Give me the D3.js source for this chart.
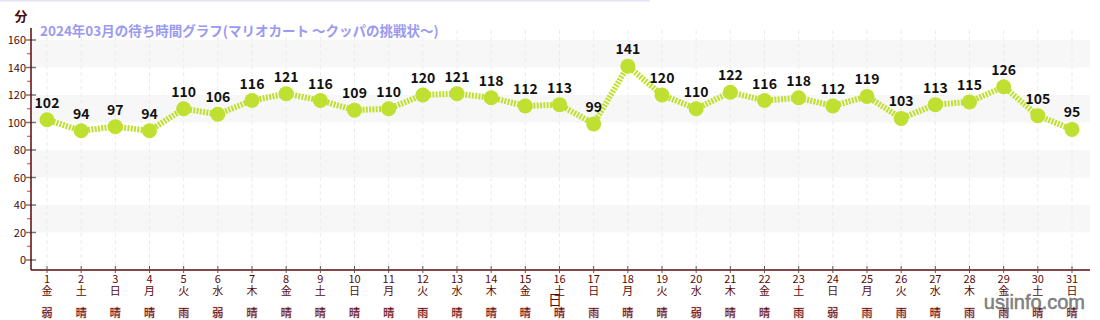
<!DOCTYPE html>
<html><head><meta charset="utf-8">
<script src="https://cdn.jsdelivr.net/npm/d3@7"></script>
<style>body{margin:0;background:#fff}svg{display:block;font-family:"Noto Sans CJK JP","Noto Sans",sans-serif}</style>
</head><body><svg id="c" width="1100" height="320"></svg>
<script>
const days = d3.range(1, 32).map(String);
const waits = [102,94,97,94,110,106,116,121,116,109,110,120,121,118,112,113,99,141,120,110,122,116,118,112,119,103,113,115,126,105,95];
const weekdays = ["金","土","日","月","火","水","木","金","土","日","月","火","水","木","金","土","日","月","火","水","木","金","土","日","月","火","水","木","金","土","日"];
const weather = ["弱雨","晴","晴","晴","雨","弱雨","晴","晴","晴","晴","晴","雨","晴","晴","晴","晴","雨","晴","晴","弱雨","晴","晴","雨","弱雨","雨","雨","晴","雨","雨","晴","晴"];
const yTicks = [0,20,40,60,80,100,120,140,160];
const title = "2024年03月の待ち時間グラフ(マリオカート 〜クッパの挑戦状〜)";

(function(){
const svg = d3.select("#c");
const pL = 31, pR = 1090, pT = 30, pB = 270;
const x = d3.scalePoint().domain(days).range([47, 1072]);
const y = d3.scaleLinear().domain([0, 160]).range([260, 40]);

svg.append("line").attr("x1",0).attr("x2",650).attr("y1",0.5).attr("y2",0.5).attr("stroke","#e4e4f8").attr("stroke-width",2);

const bands = [[140,160],[100,120],[60,80],[20,40]];
svg.selectAll("rect.band").data(bands).join("rect")
  .attr("x", pL).attr("width", pR-pL)
  .attr("y", d=>y(d[1])).attr("height", d=>y(d[0])-y(d[1]))
  .attr("fill","#f7f7f7");

svg.selectAll("line.vg").data(days).join("line")
  .attr("x1",d=>x(d)).attr("x2",d=>x(d)).attr("y1",pT).attr("y2",pB)
  .attr("stroke","#ebebeb").attr("stroke-dasharray","4,3");

svg.selectAll("line.mt").data(d3.range(10,170,20)).join("line")
  .attr("x1",pL-4).attr("x2",pL).attr("y1",d=>y(d)).attr("y2",d=>y(d))
  .attr("stroke","#e33").attr("stroke-width",1);
svg.selectAll("line.Mt").data(yTicks).join("line")
  .attr("x1",pL-5).attr("x2",pL+5).attr("y1",d=>y(d)).attr("y2",d=>y(d))
  .attr("stroke","#777").attr("stroke-width",1.5);
svg.selectAll("text.yl").data(yTicks).join("text")
  .attr("x",pL-5).attr("y",d=>y(d)+4).attr("text-anchor","end")
  .attr("font-size",11).attr("fill","#4a0a0a").text(d=>d);

svg.append("line").attr("x1",pL).attr("x2",pL).attr("y1",pT-2).attr("y2",pB).attr("stroke","#5a0a0a").attr("stroke-width",1.5);
svg.append("line").attr("x1",pL).attr("x2",pR).attr("y1",pB).attr("y2",pB).attr("stroke","#5a0a0a").attr("stroke-width",1.5);

svg.selectAll("line.xt").data(days).join("line")
  .attr("x1",d=>x(d)).attr("x2",d=>x(d)).attr("y1",pB-4).attr("y2",pB+3)
  .attr("stroke","#555").attr("stroke-width",1);

const xl = svg.selectAll("g.xl").data(days).join("g").attr("transform",d=>`translate(${x(d)},0)`);
xl.append("text").attr("y",283).attr("text-anchor","middle").attr("font-size",11).attr("fill","#5a0a0a").text(d=>d);
xl.append("text").attr("y",295).attr("text-anchor","middle").attr("font-size",11).attr("fill","#5a0a0a").text((d,i)=>weekdays[i]);
xl.each(function(d,i){
  const g = d3.select(this);
  weather[i].split("").forEach((ch,k)=>{
    g.append("text").attr("y",317+k*13).attr("text-anchor","middle").attr("font-size",11)
     .attr("fill","#5a0a0a").attr("stroke","#e8c8cc").attr("stroke-width",1.2).attr("paint-order","stroke").text(ch);
  });
});

svg.append("text").attr("x",555).attr("y",305).attr("text-anchor","middle").attr("font-size",14).attr("fill","#5a0a0a").text("日");
svg.append("text").attr("x",21).attr("y",21).attr("text-anchor","middle").attr("font-size",13).attr("font-weight","bold").attr("fill","#4a0a0a").text("分");

svg.append("text").attr("x",40).attr("y",36).attr("font-size",13.5).attr("font-weight","bold").attr("fill","#9a9af0").text(title);

const line = d3.line().x((d,i)=>x(days[i])).y(d=>y(d));
svg.append("path").datum(waits).attr("d",line).attr("fill","none")
  .attr("stroke","#bfe030").attr("stroke-width",6).attr("stroke-dasharray","2,1.3");
svg.selectAll("circle.pt").data(waits).join("circle")
  .attr("cx",(d,i)=>x(days[i])).attr("cy",d=>y(d)).attr("r",7.5).attr("fill","#bfe030");
svg.selectAll("text.vl").data(waits).join("text")
  .attr("x",(d,i)=>x(days[i])).attr("y",d=>y(d)-12).attr("text-anchor","middle")
  .attr("font-size",14).attr("font-weight","bold").attr("fill","#111").text(d=>d);

svg.append("text").attr("x",1085).attr("y",309).attr("text-anchor","end").attr("font-size",20)
  .attr("fill","#707070").attr("stroke","#707070").attr("stroke-width",0.6).attr("fill-opacity",0.85).attr("stroke-opacity",0.85)
  .attr("font-family","Liberation Sans, Arial, sans-serif").text("usjinfo.com");
})();
</script></body></html>
